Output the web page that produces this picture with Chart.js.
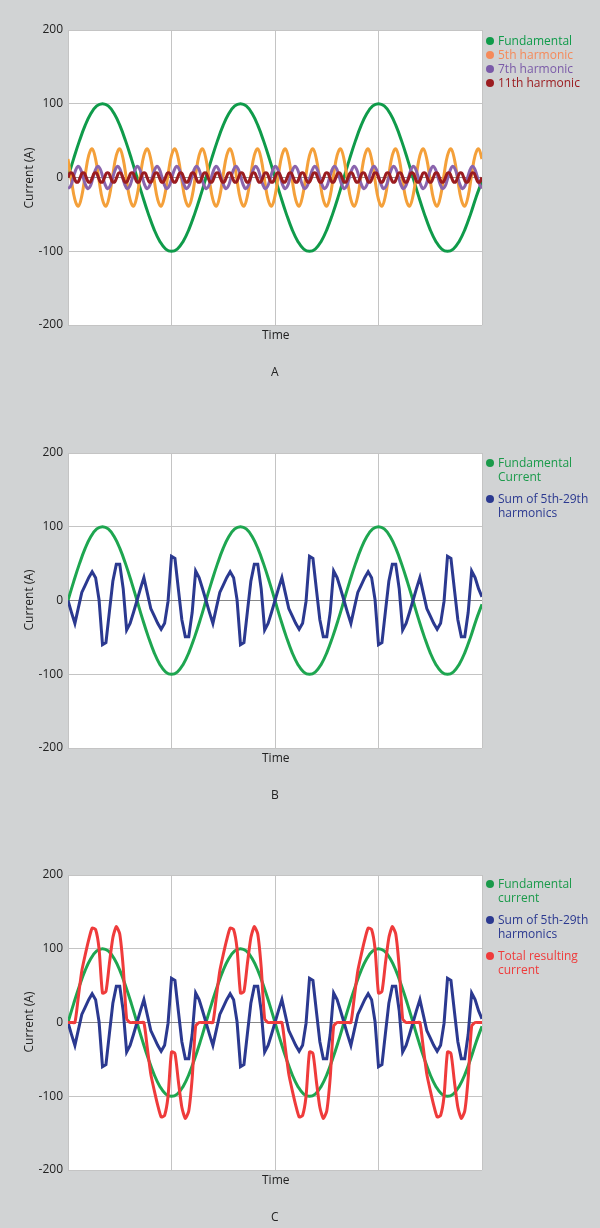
<!DOCTYPE html>
<html><head><meta charset="utf-8">
<script src="https://cdn.jsdelivr.net/npm/chart.js@4"></script>
<style>
body{margin:0;background:#d1d3d4;width:600px;height:1228px;position:relative;overflow:hidden;font-family:"Open Sans",sans-serif;}
.cv{position:absolute;left:0;width:600px;height:400px;}
.t{position:absolute;font-size:12px;color:#222;white-space:nowrap;}
.lg{position:absolute;left:486px;font-size:12px;line-height:14px;white-space:nowrap;}
.lg span.d{display:inline-block;width:8px;height:8px;border-radius:50%;margin-right:4px;vertical-align:0px;}
.yt{position:absolute;font-size:12px;color:#222;transform:translate(-50%,-50%) rotate(-90deg);white-space:nowrap;}
</style></head><body>
<div class="cv" style="top:0"><canvas id="cA"></canvas></div>
<div class="cv" style="top:423px"><canvas id="cB"></canvas></div>
<div class="cv" style="top:845px"><canvas id="cC"></canvas></div>
<script>
const yTicks=[200,100,0,-100,-200];
const fundamental=[0,26,50,71,87,97,100,97,87,71,50,26,0,-26,-50,-71,-87,-97,-100,-97,-87,-71,-50,-26,
0,26,50,71,87,97,100,97,87,71,50,26,0,-26,-50,-71,-87,-97,-100,-97,-87,-71,-50,-26,
0,26,50,71,87,97,100,97,87,71,50,26,0,-26,-50,-71,-87,-97,-100,-97,-87,-71,-50,-26,-5];
const harm5=[25,-4,-30,-39,-25,4,30,39,25,-4,-30,-39,-25,4,30,39,25,-4,-30,-39,-25,4,30,39,
25,-4,-30,-39,-25,4,30,39,25,-4,-30,-39,-25,4,30,39,25,-4,-30,-39,-25,4,30,39,
25,-4,-30,-39,-25,4,30,39,25,-4,-30,-39,-25,4,30,39,25,-4,-30,-39,-25,4,30,39,
25,-4,-30,-39,-25,4,30,39,25,-4,-30,-39,-25,4,30,39,25,-4,-30,-39,-25,4,30,39,
25,-4,-30,-39,-25,4,30,39,25,-4,-30,-39,-25,4,30,39,25,-4,-30,-39,-25,4,30,39,25];
const harm7=[-15,-12,-2,9,15,12,2,-9,-15,-12,-2,9,15,12,2,-9,-15,-12,-2,9,15,12,2,-9,
-15,-12,-2,9,15,12,2,-9,-15,-12,-2,9,15,12,2,-9,-15,-12,-2,9,15,12,2,-9,
-15,-12,-2,9,15,12,2,-9,-15,-12,-2,9,15,12,2,-9,-15,-12,-2,9,15,12,2,-9,
-15,-12,-2,9,15,12,2,-9,-15,-12,-2,9,15,12,2,-9,-15,-12,-2,9,15,12,2,-9,
-15,-12,-2,9,15,12,2,-9,-15,-12,-2,9,15,12,2,-9,-15,-12,-2,9,15,12,2,-9,
-15,-12,-2,9,15,12,2,-9,-15,-12,-2,9,15,12,2,-9,-15,-12,-2,9,15,12,2,-9,
-15,-12,-2,9,15,12,2,-9,-15,-12,-2,9,15,12,2,-9,-15,-12,-2,9,15,12,2,-9,-15];
const harm11=[0,6,6,0,-6,-6,0,6,6,0,-6,-6,0,6,6,0,-6,-6,0,6,6,0,-6,-6,0,6,6,0,-6,-6,0,6,6,0,-6,-6,
0,6,6,0,-6,-6,0,6,6,0,-6,-6,0,6,6,0,-6,-6,0,6,6,0,-6,-6,0,6,6,0,-6,-6,
0,6,6,0,-6,-6,0,6,6,0,-6,-6,0,6,6,0,-6,-6,0,6,6,0,-6,-6,0,6,6,0,-6,-6,
0,6,6,0,-6,-6,0,6,6,0,-6,-6,0,6,6,0,-6,-6,0,6,6,0,-6,-6,0,6,6,0,-6,-6,
0,6,6,0,-6,-6,0,6,6,0,-6,-6,0,6,6,0,-6,-6,0,6,6,0,-6,-6,0,6,6,0,-6,-6,
0,6,6,0,-6,-6,0,6,6,0,-6,-6,0,6,6,0,-6,-6,0,6,6,0,-6,-6,0,6,6,0,-6,-6,
0,6,6,0,-6,-6,0,6,6,0,-6,-6,0,6,6,0,-6,-6,0];
const sumHarmonics=[0,-16,-31,-10,11,21,31,39,31,1,-60,-57,-15,26,49,49,16,-40,-31,-16,0,16,31,10,-11,-21,-31,-39,-31,-1,60,57,15,-26,-49,-49,-16,40,31,16,
0,-16,-31,-10,11,21,31,39,31,1,-60,-57,-15,26,49,49,16,-40,-31,-16,0,16,31,10,-11,-21,-31,-39,-31,-1,60,57,15,-26,-49,-49,-16,40,31,16,
0,-16,-31,-10,11,21,31,39,31,1,-60,-57,-15,26,49,49,16,-40,-31,-16,0,16,31,10,-11,-21,-31,-39,-31,-1,60,57,15,-26,-49,-49,-16,40,31,16,5];
const totalCurrent=[0,0,0,35,70,92,112,128,126,100,40,42,80,115,130,120,75,5,0,0,0,0,0,-35,-70,-92,-112,-128,-126,-100,-40,-42,-80,-115,-130,-120,-75,-5,0,0,
0,0,0,35,70,92,112,128,126,100,40,42,80,115,130,120,75,5,0,0,0,0,0,-35,-70,-92,-112,-128,-126,-100,-40,-42,-80,-115,-130,-120,-75,-5,0,0,
0,0,0,35,70,92,112,128,126,100,40,42,80,115,130,120,75,5,0,0,0,0,0,-35,-70,-92,-112,-128,-126,-100,-40,-42,-80,-115,-130,-120,-75,-5,0,0,0];

const pts=a=>a.map((v,i)=>({x:i*3/(a.length-1),y:v}));
const bg={id:'bg',beforeDraw(c){const a=c.chartArea,x=c.ctx;x.save();x.fillStyle='#fff';x.fillRect(a.left,a.top,a.right-a.left,a.bottom-a.top);x.restore();}};
function ds(arr,color,order,tension){return {data:pts(arr),borderColor:color,borderWidth:3,pointRadius:0,tension:tension,order:order,fill:false};}
function make(id,sets){
 new Chart(document.getElementById(id),{type:'line',data:{datasets:sets},plugins:[bg],
 options:{responsive:false,animation:false,events:[],layout:{padding:{top:30,right:118,bottom:0,left:0}},
 plugins:{legend:{display:false},tooltip:{enabled:false}},
 scales:{
  x:{type:'linear',min:0,max:3,afterFit:s=>{s.height=75;},
     ticks:{display:false,stepSize:0.75},border:{display:false},
     grid:{color:'#c4c4c4',lineWidth:1,drawTicks:false}},
  y:{min:-200,max:200,afterFit:s=>{s.width=68;},afterBuildTicks:s=>{s.ticks=yTicks.map(v=>({value:v}));},
     ticks:{color:'#222',font:{family:'Open Sans',size:12},padding:5},border:{display:false},
     grid:{color:c=>c.tick&&c.tick.value===0?'#888':'#c4c4c4',lineWidth:1,drawTicks:false}}
 }}});
}
['cA','cB','cC'].forEach(id=>{const c=document.getElementById(id);c.width=600;c.height=400;c.style.width='600px';c.style.height='400px';});
make('cA',[ds(fundamental,'#0f9b4a',4,0.4),ds(harm5,'#f4a03a',3,0.4),ds(harm7,'#8a64ad',2,0.4),ds(harm11,'#9b1c20',1,0.4)]);
make('cB',[ds(fundamental,'#1ea650',2,0.4),ds(sumHarmonics,'#2b3990',1,0)]);
make('cC',[ds(fundamental,'#1ea650',3,0.4),ds(sumHarmonics,'#2b3990',2,0),ds(totalCurrent,'#ef3b3b',1,0.2)]);
</script>
<div class="yt" style="left:28px;top:178px">Current (A)</div>
<div class="yt" style="left:28px;top:600px">Current (A)</div>
<div class="yt" style="left:28px;top:1022px">Current (A)</div>
<div class="t" style="left:262px;top:326px">Time</div>
<div class="t" style="left:262px;top:749px">Time</div>
<div class="t" style="left:262px;top:1171px">Time</div>
<div class="t" style="left:271px;top:363px">A</div>
<div class="t" style="left:271px;top:786px">B</div>
<div class="t" style="left:271px;top:1208px">C</div>
<div class="lg" style="top:34px">
<div style="color:#0f9b4a"><span class="d" style="background:#0f9b4a"></span>Fundamental</div>
<div style="color:#f58a5a"><span class="d" style="background:#f58a5a"></span>5th harmonic</div>
<div style="color:#7a5aa8"><span class="d" style="background:#7a5aa8"></span>7th harmonic</div>
<div style="color:#9b1c20"><span class="d" style="background:#9b1c20"></span>11th harmonic</div>
</div>
<div class="lg" style="top:456px">
<div style="color:#1a9a4a"><span class="d" style="background:#1a9a4a"></span>Fundamental</div>
<div style="color:#1a9a4a;padding-left:12px;margin-bottom:8px">Current</div>
<div style="color:#2b3990"><span class="d" style="background:#2b3990"></span>Sum of 5th-29th</div>
<div style="color:#2b3990;padding-left:12px">harmonics</div>
</div>
<div class="lg" style="top:877px">
<div style="color:#1a9a4a"><span class="d" style="background:#1a9a4a"></span>Fundamental</div>
<div style="color:#1a9a4a;padding-left:12px;margin-bottom:8px">current</div>
<div style="color:#2b3990"><span class="d" style="background:#2b3990"></span>Sum of 5th-29th</div>
<div style="color:#2b3990;padding-left:12px;margin-bottom:8px">harmonics</div>
<div style="color:#ef3b3b"><span class="d" style="background:#ef3b3b"></span>Total resulting</div>
<div style="color:#ef3b3b;padding-left:12px">current</div>
</div>
</body></html>
